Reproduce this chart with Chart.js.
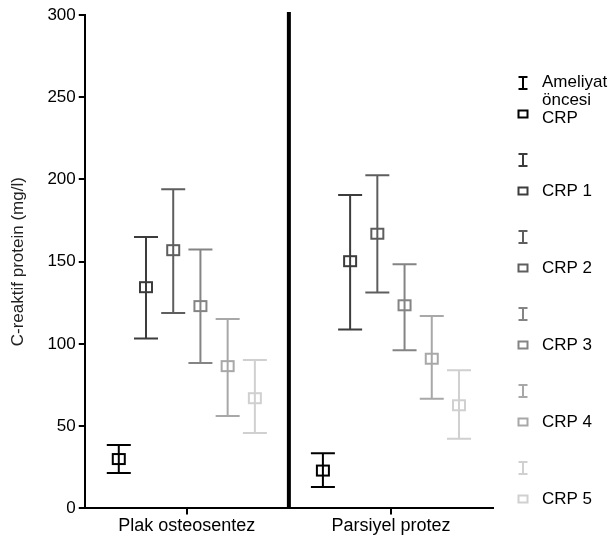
<!DOCTYPE html>
<html>
<head>
<meta charset="utf-8">
<script src="https://cdn.jsdelivr.net/npm/chart.js@4.4.0/dist/chart.umd.min.js"></script>
<style>
  html, body { margin: 0; padding: 0; background: #fff; }
  #wrap { width: 616px; height: 538px; }
</style>
</head>
<body>
<div id="wrap"><canvas id="myChart" width="616" height="538"></canvas></div>
<script>
// groups on the x axis
var categories = ['Plak osteosentez', 'Parsiyel protez'];
// one series per time point
var seriesLabels = ['Ameliyat öncesi CRP', 'CRP 1', 'CRP 2', 'CRP 3', 'CRP 4', 'CRP 5'];
var seriesColors = ['#000000', '#3c3c3c', '#5e5e5e', '#848484', '#a8a8a8', '#d0d0d0'];

// mean values, [Plak osteosentez, Parsiyel protez]
var preopMean = [30, 23];
var crp1Mean = [134.5, 150.3];
var crp2Mean = [157, 167];
var crp3Mean = [123, 123.5];
var crp4Mean = [86.5, 91];
var crp5Mean = [67, 62.7];

// lower ends of the error bars
var preopLow = [21.5, 13];
var crp1Low = [103.3, 108.7];
var crp2Low = [118.8, 131.3];
var crp3Low = [88.4, 96.1];
var crp4Low = [56.2, 66.7];
var crp5Low = [45.8, 42.4];

// upper ends of the error bars
var preopHigh = [38.5, 33.5];
var crp1High = [165, 190.5];
var crp2High = [194, 202.6];
var crp3High = [157.4, 148.5];
var crp4High = [115.2, 117];
var crp5High = [90.2, 84];

var yTicks = [0, 50, 100, 150, 200, 250, 300];

var means = [preopMean, crp1Mean, crp2Mean, crp3Mean, crp4Mean, crp5Mean];
var lows = [preopLow, crp1Low, crp2Low, crp3Low, crp4Low, crp5Low];
var highs = [preopHigh, crp1High, crp2High, crp3High, crp4High, crp5High];

var FONT = "'Liberation Sans', Arial, Helvetica, sans-serif";

// error bars + hollow squares, drawn on top of invisible bars
const errorBars = {
    id: 'errorBars',
    afterDatasetsDraw(chart) {
        const ctx = chart.ctx;
        const y = chart.scales.y;
        chart.data.datasets.forEach(function (ds, di) {
            const meta = chart.getDatasetMeta(di);
            meta.data.forEach(function (el, i) {
                const x = el.x;
                const yLo = y.getPixelForValue(lows[di][i]);
                const yHi = y.getPixelForValue(highs[di][i]);
                const yM = y.getPixelForValue(means[di][i]);
                ctx.save();
                ctx.strokeStyle = seriesColors[di];
                ctx.lineWidth = 2;
                ctx.beginPath();
                ctx.moveTo(x, yLo); ctx.lineTo(x, yHi);
                ctx.moveTo(x - 12, yLo); ctx.lineTo(x + 12, yLo);
                ctx.moveTo(x - 12, yHi); ctx.lineTo(x + 12, yHi);
                ctx.stroke();
                ctx.strokeRect(x - 6, yM - 5, 12, 10);
                ctx.restore();
            });
        });
    }
};

// thick separator between the two groups
const divider = {
    id: 'divider',
    afterDraw(chart) {
        const ctx = chart.ctx;
        const xs = chart.scales.x;
        const xPix = xs.getPixelForValue(0.5);
        ctx.save();
        ctx.strokeStyle = '#000';
        ctx.lineWidth = 4;
        ctx.beginPath();
        ctx.moveTo(xPix, chart.chartArea.top - 3);
        ctx.lineTo(xPix, chart.chartArea.bottom);
        ctx.stroke();
        ctx.restore();
    }
};

// legend on the right: an I glyph then a square with its label
const sideLegend = {
    id: 'sideLegend',
    afterDraw(chart) {
        const ctx = chart.ctx;
        const lx = chart.chartArea.right + 30;
        ctx.save();
        ctx.font = '17px ' + FONT;
        ctx.textBaseline = 'middle';
        ctx.textAlign = 'left';
        seriesLabels.forEach(function (lbl, i) {
            const yI = 83 + i * 77;
            const yS = yI + 31;
            ctx.strokeStyle = seriesColors[i];
            ctx.lineWidth = 2;
            ctx.beginPath();
            ctx.moveTo(lx, yI - 6); ctx.lineTo(lx, yI + 6);
            ctx.moveTo(lx - 4.5, yI - 6); ctx.lineTo(lx + 4.5, yI - 6);
            ctx.moveTo(lx - 4.5, yI + 6); ctx.lineTo(lx + 4.5, yI + 6);
            ctx.stroke();
            ctx.strokeRect(lx - 4.5, yS - 3.5, 9, 7);
            ctx.fillStyle = '#000';
            if (i === 0) {
                ctx.fillText('Ameliyat', lx + 19, yI - 1);
                ctx.fillText('öncesi', lx + 19, yI + 17);
                ctx.fillText('CRP', lx + 19, yI + 35);
            } else {
                ctx.fillText(lbl, lx + 19, yS);
            }
        });
        ctx.restore();
    }
};

var datasets = seriesLabels.map(function (lbl, i) {
    return {
        label: lbl,
        data: means[i],
        backgroundColor: 'rgba(0,0,0,0)',
        borderWidth: 0
    };
});

const config = {
    type: 'bar',
    data: { labels: categories, datasets: datasets },
    options: {
        responsive: false,
        animation: false,
        categoryPercentage: 0.8,
        barPercentage: 1,
        layout: { padding: { top: 15, right: 123, left: 8, bottom: 0 } },
        scales: {
            x: {
                grid: { drawOnChartArea: false, offset: false, tickLength: 6, lineWidth: 2, color: '#000' },
                border: { display: true, width: 2, color: '#000' },
                ticks: { color: '#000', font: { family: FONT, size: 18 }, padding: 1 }
            },
            y: {
                min: 0, max: 300,
                afterBuildTicks: function (axis) {
                    axis.ticks = yTicks.map(function (v) { return { value: v }; });
                },
                grid: { drawOnChartArea: false, tickLength: 6, lineWidth: 2, color: '#000' },
                border: { display: true, width: 2, color: '#000' },
                ticks: { color: '#000', font: { family: FONT, size: 17 }, padding: 3 },
                title: {
                    display: true,
                    text: 'C-reaktif protein (mg/l)',
                    color: '#222',
                    font: { family: FONT, size: 17 },
                    padding: { top: 0, bottom: 16 }
                }
            }
        },
        plugins: {
            legend: { display: false },
            tooltip: { enabled: false }
        }
    },
    plugins: [errorBars, divider, sideLegend]
};

var myChart = new Chart(document.getElementById('myChart'), config);
</script>
</body>
</html>
